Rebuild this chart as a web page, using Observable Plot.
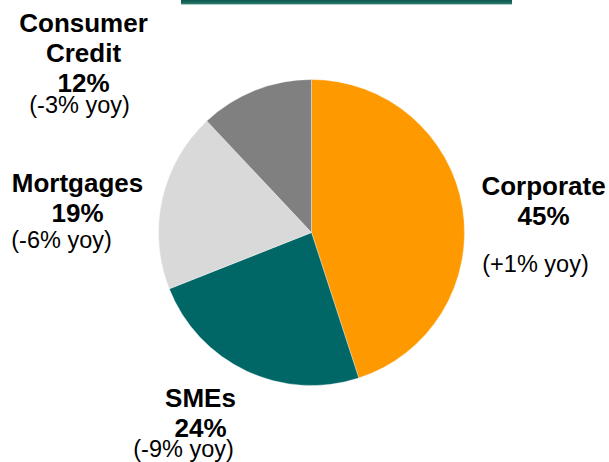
<!DOCTYPE html>
<html>
<head>
<meta charset="utf-8">
<script src="https://cdn.jsdelivr.net/npm/d3@7"></script>
<script src="https://cdn.jsdelivr.net/npm/@observablehq/plot@0.6"></script>
<style>
  html, body { margin: 0; padding: 0; background: #fff; }
  #chart svg { display: block; font-family: "Liberation Sans", Arial, sans-serif; }
</style>
</head>
<body>
<div id="chart"></div>
<script>
// Loan book split by segment, with year-on-year change
const categories = ["Corporate", "SMEs", "Mortgages", "Consumer Credit"];
const shares = [45, 24, 19, 12];
const yoyChange = ["+1%", "-9%", "-6%", "-3%"];
const titles = ["Corporate", "SMEs", "Mortgages", "Consumer\nCredit"];
const palette = ["#FF9900", "#006666", "#D9D9D9", "#808080"];

const slices = categories.map((category, i) => ({
  category,
  share: shares[i],
  title: titles[i],
  yoy: yoyChange[i]
}));

// Pie geometry in pixels: centre and radius of the disc
const W = 609, H = 462, CX = 311.5, CY = 232.5, R = 153;
const px = (p) => (p - CX) / R;   // pixel x -> unit x
const py = (p) => (CY - p) / R;   // pixel y -> unit y

// Label placement (pixel centre x, first baseline y) for each segment
const labelLayout = {
  "Corporate":       {name: [543, 195], yoy: [535, 272]},
  "SMEs":            {name: [200, 407], yoy: [183, 457]},
  "Mortgages":       {name: [77, 192],  yoy: [61, 248]},
  "Consumer Credit": {name: [83, 32],   yoy: [79, 113]}
};
const BOLD = 26, REG = 23.5, LINE = 30;

const labels = slices.map(d => {
  const L = labelLayout[d.category];
  return {
    ...d,
    nameText: `${d.title}\n${d.share}%`,
    nx: px(L.name[0]), ny: py(L.name[1] - 0.71 * BOLD - 3),
    yx: px(L.yoy[0]),  yy: py(L.yoy[1] - 0.71 * REG - 1),
    yoyText: `(${d.yoy} yoy)`
  };
});

// Header strip across the top
function headerStrip() {
  return () => {
    const g = d3.create("svg:g");
    const grad = g.append("defs").append("linearGradient")
      .attr("id", "hdr").attr("x1", 0).attr("y1", 0).attr("x2", 0).attr("y2", 1);
    grad.append("stop").attr("offset", "0%").attr("stop-color", "#0e5a50");
    grad.append("stop").attr("offset", "70%").attr("stop-color", "#1f6e62");
    grad.append("stop").attr("offset", "100%").attr("stop-color", "#5b9a8f");
    g.append("rect").attr("x", 181).attr("y", 0).attr("width", 331).attr("height", 4.5)
      .attr("fill", "url(#hdr)");
    return g.node();
  };
}

const chart = Plot.plot({
  width: W,
  height: H,
  margin: 0,
  x: {domain: [-1, 1], range: [CX - R, CX + R], axis: null},
  y: {domain: [-1, 1], range: [CY + R, CY - R], axis: null},
  color: {domain: categories, range: palette},
  marks: [
    headerStrip(),
    // Pie slices, clockwise from twelve o'clock
    Plot.dot(slices, {
      x: () => 0,
      y: () => 0,
      fill: "category",
      render(index, scales, values) {
        const r = Math.abs(scales.x(1) - scales.x(0));
        const arcs = d3.pie().sort(null).value(i => slices[i].share)(index);
        const arc = d3.arc().innerRadius(0).outerRadius(r);
        const g = d3.create("svg:g");
        g.selectAll("path").data(arcs).join("path")
          .attr("transform", a => `translate(${values.x[a.data]},${values.y[a.data]})`)
          .attr("d", arc)
          .attr("fill", a => values.fill[a.data])
          .attr("stroke", "#ffffff")
          .attr("stroke-width", 0.6)
          .attr("stroke-opacity", 0.6);
        return g.node();
      }
    }),
    Plot.text(labels, {
      x: "nx", y: "ny", text: "nameText",
      lineAnchor: "top", lineHeight: LINE / BOLD,
      fontSize: BOLD, fontWeight: "bold", fill: "#000"
    }),
    Plot.text(labels, {
      x: "yx", y: "yy", text: "yoyText",
      lineAnchor: "top",
      fontSize: REG, fill: "#000"
    })
  ]
});

document.getElementById("chart").appendChild(chart);
</script>
</body>
</html>
